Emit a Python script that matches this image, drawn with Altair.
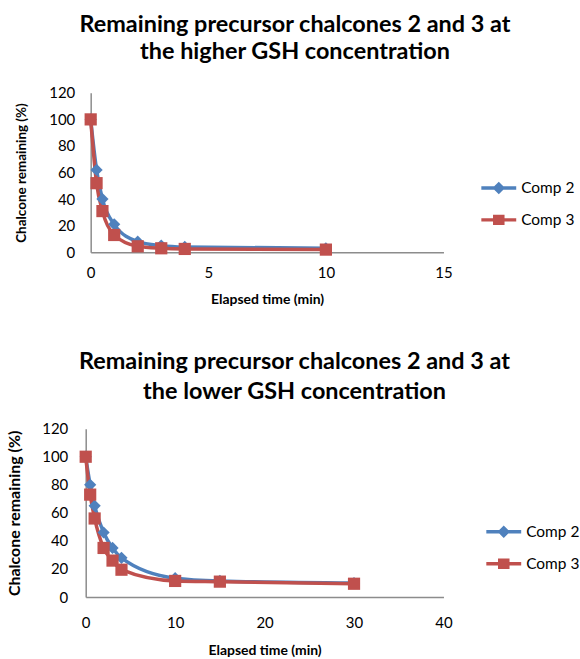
import altair as alt
import pandas as pd

series = ["Comp 2", "Comp 3"]
colors = ["#4F81BD", "#C0504D"]
marker_shapes = ["diamond", "square"]
legend_paths = [
    "M-1,0L1,0M0,-0.22L0.22,0L0,0.22L-0.22,0Z",
    "M-1,0L1,0M-0.33,-0.2L0.33,-0.2M-0.33,0.2L0.33,0.2M-0.33,0L0.33,0",
]

# Higher GSH concentration
hi_time = [0, 0.25, 0.5, 1, 2, 3, 4, 10]
hi_comp2 = [100, 62, 40, 21, 8, 5, 4, 3]
hi_comp3 = [100, 52, 31, 13, 4.5, 3, 2.5, 2]
hi_xticks = [0, 5, 10, 15]

# Lower GSH concentration
lo_time = [0, 0.5, 1, 2, 3, 4, 10, 15, 30]
lo_comp2 = [100, 80, 65, 46, 35, 28, 13.5, 11.5, 10]
lo_comp3 = [100, 73, 56, 35, 26, 19.5, 11.5, 11, 9.5]
lo_xticks = [0, 10, 20, 30, 40]

yticks = [0, 20, 40, 60, 80, 100, 120]

FONT = "Lato"


def make_df(time, c2, c3):
    rows = []
    for t, v in zip(time, c2):
        rows.append({"time": t, "value": v, "series": series[0]})
    for t, v in zip(time, c3):
        rows.append({"time": t, "value": v, "series": series[1]})
    return pd.DataFrame(rows)


def panel(df, xticks, title_lines, w, h, lx, ly, ylab_pad, ytitle_pad, ytitle_size,
          xlab_pad, xtitle_pad, title_dx, title_offset, title_lh):
    color_scale = alt.Scale(domain=series, range=colors)
    x = alt.X("time:Q", scale=alt.Scale(domain=[xticks[0], xticks[-1]], nice=False),
              axis=alt.Axis(values=xticks, title="Elapsed time (min)", labelPadding=xlab_pad,
                            titlePadding=xtitle_pad, labelFlush=False, grid=False, ticks=False))
    y = alt.Y("value:Q", scale=alt.Scale(domain=[0, 120], nice=False),
              axis=alt.Axis(values=yticks, title="Chalcone remaining (%)", labelPadding=ylab_pad,
                            titlePadding=ytitle_pad, titleFontSize=ytitle_size, grid=False,
                            ticks=False))
    base = alt.Chart(df)
    layers = []
    for s, c in zip(series, colors):
        layers.append(
            base.transform_filter(alt.datum.series == s)
            .mark_line(interpolate="monotone", strokeWidth=3.5, color=c)
            .encode(x=x, y=y)
        )
    for s, c, shp in zip(series, colors, marker_shapes):
        layers.append(
            base.transform_filter(alt.datum.series == s)
            .mark_point(filled=True, shape=shp, size=150, opacity=1, color=c)
            .encode(x=x, y=y)
        )
    legend_layer = base.mark_point(filled=True, opacity=0, strokeWidth=3.5).encode(
        x=x, y=y,
        color=alt.Color("series:N", scale=color_scale,
                        legend=alt.Legend(title=None, orient="none", legendX=lx, legendY=ly,
                                          symbolSize=1225, symbolStrokeWidth=3.5, symbolOpacity=1,
                                          labelFont=FONT, labelFontSize=15.5, labelColor="black",
                                          labelOffset=3, rowPadding=1, padding=0)),
        stroke=alt.Stroke("series:N", scale=alt.Scale(domain=series, range=colors)),
        shape=alt.Shape("series:N", scale=alt.Scale(domain=series, range=legend_paths)),
    )
    layers.append(legend_layer)
    return alt.layer(*layers).properties(
        width=w, height=h,
        title=alt.TitleParams(text=title_lines, font=FONT, fontSize=23.5, fontWeight="bold",
                              color="black", anchor="middle", dx=title_dx, lineHeight=title_lh,
                              offset=title_offset),
    )


top = panel(make_df(hi_time, hi_comp2, hi_comp3), hi_xticks,
            ["Remaining precursor chalcones 2 and 3 at", "the higher GSH concentration"],
            354, 160, 390, 76, 16, 20, 13.5, 13, 12, 28, 22, 28)
bottom = panel(make_df(lo_time, lo_comp2, lo_comp3), lo_xticks,
               ["Remaining precursor chalcones 2 and 3 at", "the lower GSH concentration"],
               359, 169, 400, 84, 18, 19, 16, 19, 13, 30, 18, 30)

chart = alt.vconcat(top, bottom, spacing=44, center=True).resolve_scale(
    color="independent", stroke="independent", shape="independent"
).properties(
    padding={"left": 6, "top": 11, "right": 0, "bottom": 0}, background="white"
).configure_view(stroke=None).configure_axis(
    domainColor="#8c8c8c", domainWidth=1.5,
    labelFont=FONT, labelFontSize=15, labelColor="black",
    titleFont=FONT, titleFontSize=14, titleFontWeight="bold", titleColor="black",
)

chart.save("out.html", embed_options={"renderer": "svg", "actions": False})
